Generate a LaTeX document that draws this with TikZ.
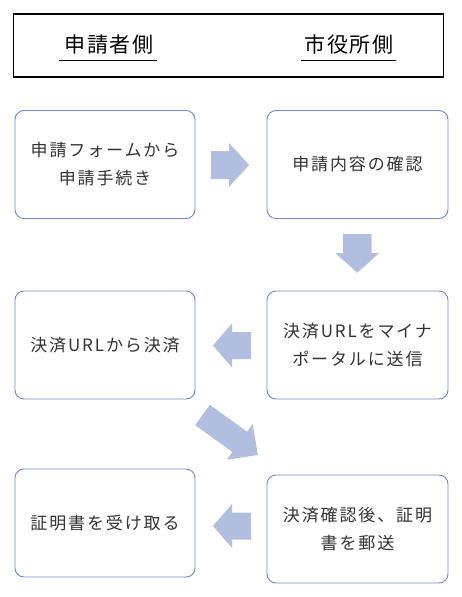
\documentclass[tikz,border=0pt]{standalone}
\usepackage{fontspec}
\newfontfamily\jpbody[LetterSpace=11]{Noto Sans CJK JP}
\newfontfamily\jphead[LetterSpace=8]{Noto Sans CJK JP}
\definecolor{boxc}{HTML}{7088C8}
\definecolor{arrowc}{HTML}{B2BEE0}
\definecolor{txtc}{HTML}{333333}
\tikzset{
  stepbox/.style={draw=boxc, line width=0.9pt, rounded corners=9pt, fill=white,
    minimum width=180pt, minimum height=108pt, align=center, text=txtc,
    font={\jpbody\fontsize{17}{28}\selectfont}, inner sep=0pt},
  headtxt/.style={font={\jphead\fontsize{21}{24}\selectfont}, text=black, inner sep=0pt},
  barrow/.style={fill=arrowc, draw=none}
}
\newcommand\blockarr[6]{%
  \fill[barrow, shift={#1}, rotate=#2] (0,-#5) -- ({#3-#4},-#5) -- ({#3-#4},-#6) -- (#3,0)
    -- ({#3-#4},#6) -- ({#3-#4},#5) -- (0,#5) -- cycle;}
\begin{document}
\begin{tikzpicture}[x=1pt, y=-1pt]
\useasboundingbox (0,0) rectangle (461,597);
% header
\node[draw=black, line width=1.1pt, minimum width=430pt, minimum height=63pt, inner sep=0pt] (hdr) at (228.3,45.5) {};
\node[headtxt] (appl) at (109,44.5) {申請者側};
\node[headtxt] (city) at (349,44.5) {市役所側};
\draw[line width=1pt] (59,60) coordinate (u1a) -- (157,60) coordinate (u1b);
\draw[line width=1pt] (301,60) coordinate (u2a) -- (396,60) coordinate (u2b);
% boxes
\node[stepbox] (b1) at (105,164.5) {申請フォームから\\申請手続き};
\node[stepbox, minimum width=181pt] (b2) at (357.5,164.5) {申請内容の確認};
\node[stepbox] (b3) at (105,345) {決済URLから決済};
\node[stepbox, minimum width=181pt] (b4) at (357.5,345) {決済URLをマイナ\\ポータルに送信};
\node[stepbox] (b5) at (105,523) {証明書を受け取る};
\node[stepbox, minimum width=181pt] (b6) at (357.5,529) {決済確認後、証明\\書を郵送};
% block arrows
\blockarr{(211,165)}{0}{38}{20}{14}{22}
\blockarr{(357.3,234)}{-90}{38.7}{19.7}{14.2}{22}
\blockarr{(251,345.5)}{180}{38}{19}{13.5}{22}
\blockarr{(202.5,415)}{-35.8}{68.4}{22.5}{12.5}{22}
\blockarr{(251,526)}{180}{38}{19}{13.5}{22}
\end{tikzpicture}
\end{document}
